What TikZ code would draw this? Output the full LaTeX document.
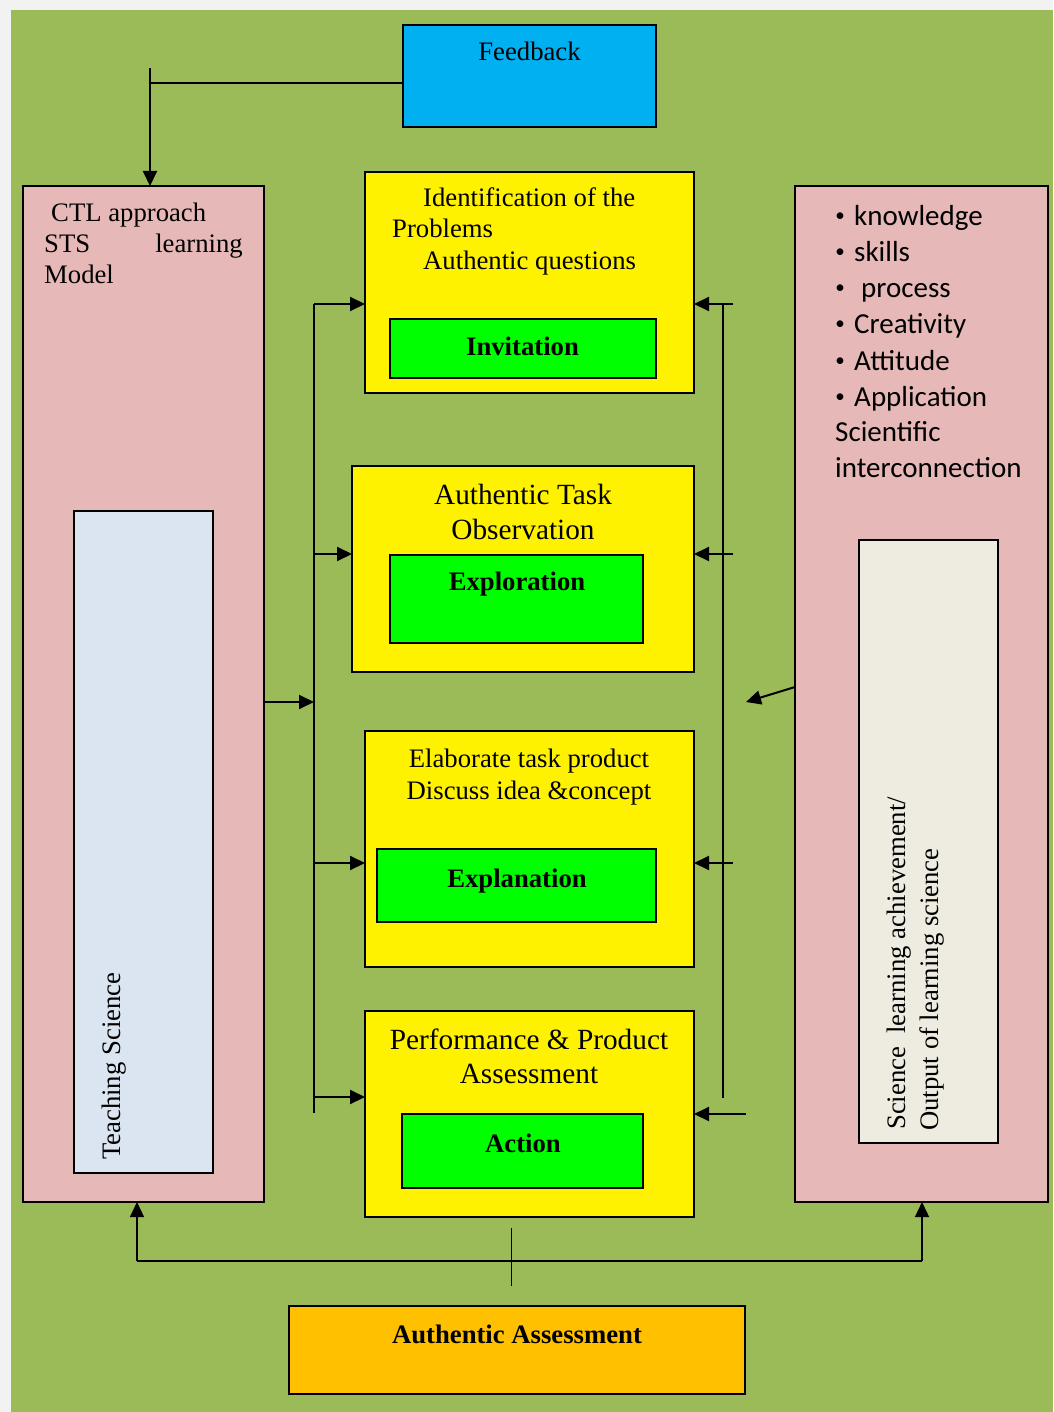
\documentclass[tikz,border=0pt]{standalone}
\usepackage{fontspec}
\setmainfont{Liberation Serif}
\newfontfamily\calibri{Carlito}
\usetikzlibrary{arrows.meta}
\definecolor{pagegray}{HTML}{F2F2F2}
\definecolor{leaf}{HTML}{9BBB59}
\definecolor{rose}{HTML}{E6B9B8}
\definecolor{paleblue}{HTML}{DBE5F1}
\definecolor{cream}{HTML}{EEECE1}
\definecolor{sky}{HTML}{00B0F0}
\definecolor{amber}{HTML}{FFC000}
\definecolor{lime}{HTML}{00FF00}

\begin{document}
\begin{tikzpicture}[x=1pt,y=-1pt]
		\tikzset{panel/.style={draw,line width=2pt,fill=#1,inner sep=0pt,outer sep=0pt},
			txt/.style={inner sep=0pt,font=\fontsize{26.7}{31}\selectfont},
			bigtxt/.style={inner sep=0pt,font=\fontsize{29.3}{35}\selectfont},
			boldtxt/.style={inner sep=0pt,font=\fontsize{26.7}{31}\selectfont\bfseries},
			listtxt/.style={inner sep=0pt,font=\fontsize{29}{36}\selectfont\calibri},
			dottxt/.style={inner sep=0pt,font=\fontsize{19}{19}\selectfont\calibri},
			link/.style={line width=2pt},
			arr/.style={line width=2pt,-{Triangle[length=15pt,width=14pt]}}}
		
		\useasboundingbox (0,0) rectangle (1053,1412);
		\fill[pagegray] (0,0) rectangle (1053,1412);
		\fill[leaf] (11,10) rectangle (1053,1412);
		
		% outer panels
		\node[panel=sky,minimum width=253pt,minimum height=102pt] (feedback) at (529.5,76) {};
		\node[panel=rose,minimum width=241pt,minimum height=1016pt] (ctl) at (143.5,694) {};
		\node[panel=paleblue,minimum width=139pt,minimum height=662pt] (teach) at (143.5,842) {};
		\node[panel=rose,minimum width=253pt,minimum height=1016pt] (outcome) at (921.5,694) {};
		\node[panel=cream,minimum width=139pt,minimum height=603pt] (achieve) at (928.5,841.5) {};
		\node[panel=amber,minimum width=456pt,minimum height=88pt] (assess) at (517,1350) {};
		
		% phases
		\node[panel=yellow,minimum width=329pt,minimum height=221pt] (phase1) at (529.5,282.5) {};
		\node[panel=lime,minimum width=266pt,minimum height=59pt] (invit) at (523,348.5) {};
		\node[panel=yellow,minimum width=342pt,minimum height=206pt] (phase2) at (523,569) {};
		\node[panel=lime,minimum width=253pt,minimum height=88pt] (explor) at (516.5,599) {};
		\node[panel=yellow,minimum width=329pt,minimum height=236pt] (phase3) at (529.5,849) {};
		\node[panel=lime,minimum width=279pt,minimum height=73pt] (explan) at (516.5,885.5) {};
		\node[panel=yellow,minimum width=329pt,minimum height=206pt] (phase4) at (529.5,1114) {};
		\node[panel=lime,minimum width=241pt,minimum height=74pt] (action) at (522.5,1151) {};
		
		% texts
		\node[txt,anchor=base] (fbtext) at (529.5,61) {Feedback};
		\node[txt,anchor=base west] (ctl1) at (51,222) {CTL approach};
		\node[txt,anchor=base west] (ctl2) at (44,253) {STS};
		\node[txt,anchor=base east] (ctl3) at (243,253) {learning};
		\node[txt,anchor=base west] (ctl4) at (44,284) {Model};
		\node[txt,anchor=base west,rotate=90] (teachtext) at (120,1160) {Teaching Science};
		\node[txt,anchor=base west,rotate=90] (ach1) at (905,1130) {Science\ \ learning achievement/};
		\node[txt,anchor=base west,rotate=90] (ach2) at (938,1131) {Output of learning science};
		
		\node[txt,anchor=base west] (p1a) at (423,207) {Identification of the};
		\node[txt,anchor=base west] (p1b) at (392,238) {Problems};
		\node[txt,anchor=base west] (p1c) at (423,270) {Authentic questions};
		\node[bigtxt,anchor=base] (p2a) at (523,504) {Authentic Task};
		\node[bigtxt,anchor=base] (p2b) at (523,539) {Observation};
		\node[txt,anchor=base] (p3a) at (529,767) {Elaborate task product};
		\node[txt,anchor=base] (p3b) at (529,799) {Discuss idea \&concept};
		\node[bigtxt,anchor=base] (p4a) at (529,1049) {Performance \& Product};
		\node[bigtxt,anchor=base] (p4b) at (529,1083) {Assessment};
		
		\node[boldtxt,anchor=base] (invittext) at (522.5,355) {Invitation};
		\node[boldtxt,anchor=base] (explortext) at (517,590) {Exploration};
		\node[boldtxt,anchor=base] (explantext) at (517,887) {Explanation};
		\node[boldtxt,anchor=base] (actiontext) at (523,1152) {Action};
		\node[boldtxt,anchor=base] (assesstext) at (517,1343) {Authentic Assessment};
		
		% outcome list
		\foreach \item/\xx [count=\i] in {knowledge/854,skills/854,process/861,Creativity/854,Attitude/854,Application/854}{
			\node[dottxt,anchor=base] (dot\i) at (840,222+36*\i-36) {•};
			\node[listtxt,anchor=base west] (item\i) at (\xx,226+36*\i-36) {\item};
		}
		\node[listtxt,anchor=base west] (item7) at (835,441) {Scientific};
		\node[listtxt,anchor=base west] (item8) at (835,477) {interconnection};
		
		% feedback loop
		\coordinate (fbtop) at (150,68);
		\draw[link] (feedback.west |- 0,83) -- (fbtop |- 0,83);
		\draw[arr] (fbtop) -- (fbtop |- ctl.north);
		
		% left bus
		\coordinate (lbtop) at (314,304);
		\coordinate (lbbot) at (314,1113);
		\draw[link] (lbtop) -- (lbbot);
		\draw[arr] (ctl.east |- 0,702) -- (lbtop |- 0,702);
		\draw[arr] (lbtop) -- (phase1.west |- lbtop);
		\draw[arr] (lbtop |- 0,554) -- (phase2.west |- 0,554);
		\draw[arr] (lbtop |- 0,863) -- (phase3.west |- 0,863);
		\draw[arr] (lbtop |- 0,1097) -- (phase4.west |- 0,1097);
		
		% right bus
		\coordinate (rbtop) at (723,304);
		\coordinate (rbbot) at (723,1098);
		\draw[link] (rbtop) -- (rbbot);
		\draw[arr] (733,304) -- (phase1.east |- 0,304);
		\draw[arr] (733,554) -- (phase2.east |- 0,554);
		\draw[arr] (733,863) -- (phase3.east |- 0,863);
		\draw[arr] (746,1114) -- (phase4.east |- 0,1114);
		\coordinate (outtip) at (746,702);
		\draw[arr] (outcome.west |- 0,687) -- (outtip);
		
		% assessment feedback
		\coordinate (astop) at (511,1228);
		\coordinate (asbot) at (511,1286);
		\coordinate (asleft) at (137,1261);
		\coordinate (asright) at (922,1261);
		\draw[line width=1pt] (astop) -- (asbot);
		\draw[link] (asleft) -- (asright);
		\draw[arr,line width=1.3pt] (asleft) -- (asleft |- ctl.south);
		\draw[arr,line width=1.3pt] (asright) -- (asright |- outcome.south);
\end{tikzpicture}
\end{document}
